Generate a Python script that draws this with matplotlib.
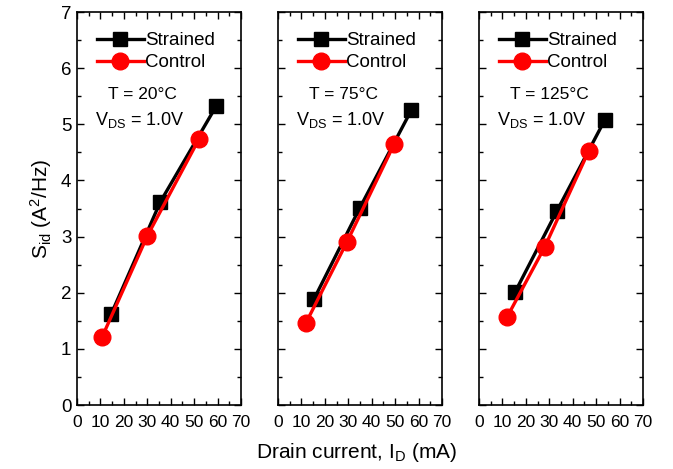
import matplotlib
matplotlib.use("Agg")
import matplotlib.pyplot as plt
from matplotlib.ticker import MultipleLocator

plt.rcParams['font.family'] = ['Liberation Sans', 'DejaVu Sans']
plt.rcParams['mathtext.fontset'] = 'custom'
plt.rcParams['mathtext.rm'] = 'Liberation Sans'
plt.rcParams['mathtext.it'] = 'Liberation Sans'

temps = ["20", "75", "125"]
strained_x = [[14.6, 35.6, 59.5], [15.4, 34.9, 56.9], [15.5, 33.3, 53.6]]
strained_y = [[1.62, 3.62, 5.33], [1.89, 3.51, 5.25], [2.02, 3.46, 5.07]]
control_x = [[10.7, 30.0, 52.1], [11.9, 29.5, 49.5], [11.9, 28.0, 46.9]]
control_y = [[1.21, 3.01, 4.74], [1.46, 2.91, 4.64], [1.56, 2.81, 4.53]]
xticks = [0, 10, 20, 30, 40, 50, 60, 70]
yticks = [0, 1, 2, 3, 4, 5, 6, 7]

fig = plt.figure(figsize=(6.73, 4.69), dpi=100)
lefts = [77 / 673, 278 / 673, 479 / 673]
w = 164 / 673
b = 1 - 405 / 469
h = (405 - 12) / 469

for i in range(3):
    ax = fig.add_axes([lefts[i], b, w, h])
    ax.plot(strained_x[i], strained_y[i], color='black', lw=2.4, marker='s',
            ms=10.5, label='Strained', zorder=3)
    ax.plot(control_x[i], control_y[i], color='red', lw=2.4, marker='o',
            ms=12, label='Control', zorder=4)
    ax.set_xlim(0, 70)
    ax.set_ylim(0, 7)
    ax.set_xticks(xticks)
    ax.set_xticklabels([str(t) for t in xticks])
    ax.set_yticks(yticks)
    ax.xaxis.set_minor_locator(MultipleLocator(5))
    ax.yaxis.set_minor_locator(MultipleLocator(0.5))
    ax.tick_params(which='both', direction='in', top=True, right=True, width=1.0)
    ax.tick_params(which='major', length=5)
    ax.tick_params(which='minor', length=3)
    ax.tick_params(axis='x', labelsize=12.5, pad=7)
    ax.tick_params(axis='y', labelsize=13.5, pad=4)
    if i == 0:
        ax.set_ylabel(r'S$_{\rm id}$ (A$^{2}$/Hz)', fontsize=15, labelpad=5)
    else:
        ax.set_yticklabels([])
    for s in ax.spines.values():
        s.set_linewidth(1.2)
    ax.legend(loc='upper left', bbox_to_anchor=(0.04, 0.982), frameon=False,
              fontsize=13.5, handlelength=2.5, handletextpad=0.1,
              borderaxespad=0.3, labelspacing=0.25)
    ax.text(0.19, 0.79, 'T = ' + temps[i] + '\u00b0C', transform=ax.transAxes,
            fontsize=12.5, va='center', ha='left')
    ax.text(0.11, 0.725, r'V$_{\rm DS}$ = 1.0V', transform=ax.transAxes,
            fontsize=13, va='center', ha='left')

fig.text(0.53, 0.035, r'Drain current, I$_{\rm D}$ (mA)', fontsize=15,
         ha='center', va='center')

fig.savefig('out.png', dpi=100)
